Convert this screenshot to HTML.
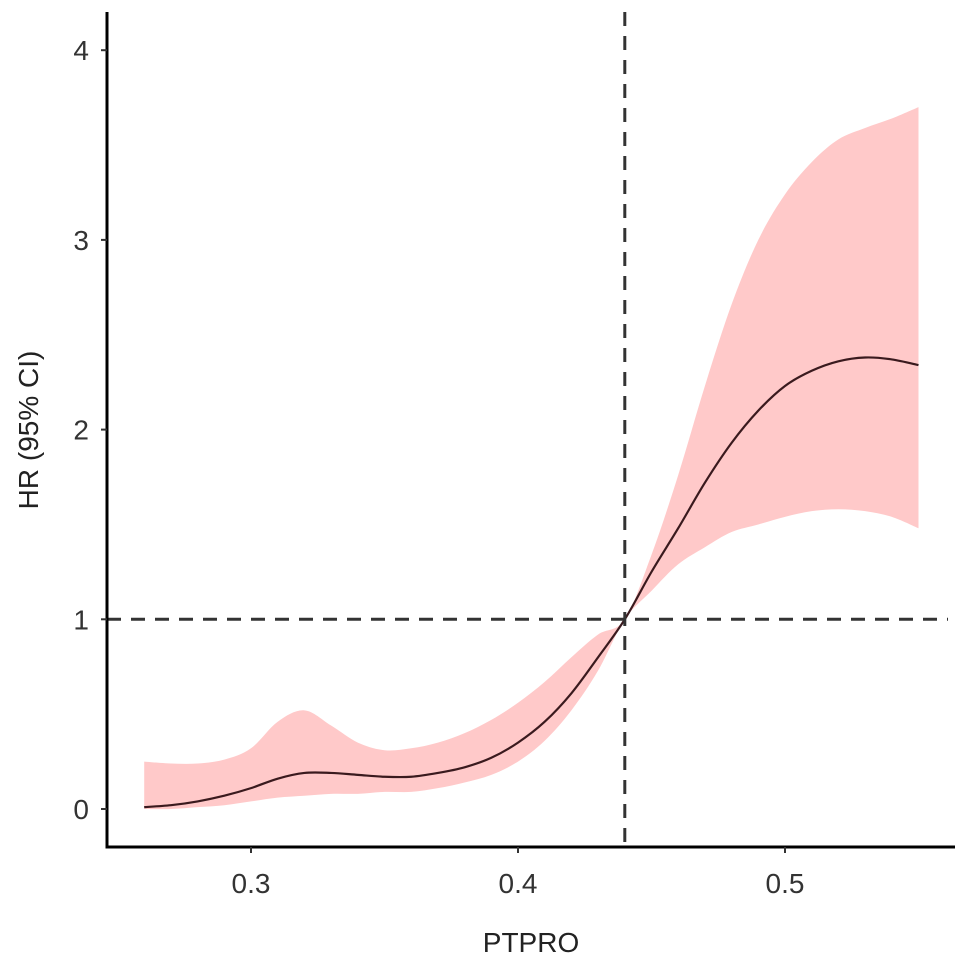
<!DOCTYPE html>
<html><head><meta charset="utf-8">
<style>
html,body{margin:0;padding:0;background:#fff;}
svg{display:block;font-family:"Liberation Sans",sans-serif;}
</style></head>
<body>
<svg id="chart" width="969" height="966" viewBox="0 0 969 966" xmlns="http://www.w3.org/2000/svg">
<g id="plot"></g>
</svg>
<script>
const xVals = [0.26,0.27,0.28,0.29,0.30,0.31,0.32,0.33,0.34,0.35,0.36,0.37,0.38,0.39,0.40,0.41,0.42,0.43,0.44,0.45,0.46,0.47,0.48,0.49,0.50,0.51,0.52,0.53,0.54,0.55];
const hr    = [0.01,0.02,0.04,0.07,0.11,0.16,0.19,0.19,0.18,0.17,0.17,0.19,0.22,0.27,0.35,0.46,0.61,0.80,1.00,1.25,1.48,1.72,1.93,2.10,2.23,2.31,2.36,2.38,2.37,2.34];
const upper = [0.25,0.24,0.24,0.26,0.32,0.46,0.52,0.44,0.35,0.31,0.32,0.35,0.40,0.47,0.56,0.67,0.80,0.92,1.00,1.34,1.76,2.23,2.66,3.00,3.24,3.41,3.53,3.59,3.64,3.70];
const lower = [0.00,0.00,0.01,0.02,0.04,0.06,0.07,0.08,0.08,0.09,0.09,0.11,0.14,0.18,0.25,0.36,0.52,0.73,1.00,1.15,1.29,1.38,1.46,1.50,1.54,1.57,1.58,1.57,1.54,1.48];
const xTicks = [0.3,0.4,0.5];
const xTickLabels = ["0.3","0.4","0.5"];
const yTicks = [0,1,2,3,4];
const yTickLabels = ["0","1","2","3","4"];
const refX = 0.44, refY = 1;

const NS="http://www.w3.org/2000/svg";
const g=document.getElementById('plot');
const X0=107, XR=955, YT=12, YB=847;
const xs = v => 251 + (v-0.3)*2670;
const ys = v => 809 - v*189.7;
function mk(tag, attrs){const e=document.createElementNS(NS,tag);for(const k in attrs)e.setAttribute(k,attrs[k]);g.appendChild(e);return e;}
function smooth(pts){
  let d="M"+pts[0][0]+","+pts[0][1];
  for(let i=0;i<pts.length-1;i++){
    const p0=pts[Math.max(0,i-1)],p1=pts[i],p2=pts[i+1],p3=pts[Math.min(pts.length-1,i+2)];
    const c1=[p1[0]+(p2[0]-p0[0])/6,p1[1]+(p2[1]-p0[1])/6];
    const c2=[p2[0]-(p3[0]-p1[0])/6,p2[1]-(p3[1]-p1[1])/6];
    d+=" C"+c1[0]+","+c1[1]+" "+c2[0]+","+c2[1]+" "+p2[0]+","+p2[1];
  }
  return d;
}
const up=xVals.map((x,i)=>[xs(x),ys(upper[i])]);
const lo=xVals.map((x,i)=>[xs(x),ys(lower[i])]).reverse();
let rd=smooth(up)+" L"+lo[0][0]+","+lo[0][1]+smooth(lo).replace(/^M[^C]*/," ")+" Z";
const rib=mk('path',{d:rd,fill:'#ffc9c9',stroke:'none'});


const ln=mk('path',{d:smooth(xVals.map((x,i)=>[xs(x),ys(hr[i])])),fill:'none',stroke:'#3a1a1e','stroke-width':2.2});


const hl=mk('line',{x1:X0,x2:948,y1:ys(refY),y2:ys(refY),stroke:'#333','stroke-width':3,'stroke-dasharray':'14 10'});


const vl=mk('line',{x1:xs(refX),x2:xs(refX),y1:YT,y2:YB,stroke:'#333','stroke-width':3,'stroke-dasharray':'14 10'});


const ya=mk('line',{x1:X0,x2:X0,y1:YT,y2:YB+1.5,stroke:'#000','stroke-width':3});


const xa=mk('line',{x1:X0-1.5,x2:XR,y1:YB,y2:YB,stroke:'#000','stroke-width':3});


yTicks.forEach((v,i)=>{
  const t=mk('line',{x1:X0-6,x2:X0,y1:ys(v),y2:ys(v),stroke:'#333','stroke-width':2});
  
  
  const l=mk('text',{x:X0-18,y:ys(v)+10,'text-anchor':'end','font-size':28,fill:'#333'});
  l.textContent=yTickLabels[i];
  
  
});
xTicks.forEach((v,i)=>{
  const t=mk('line',{x1:xs(v),x2:xs(v),y1:YB,y2:YB+6,stroke:'#333','stroke-width':2});
  
  
  const l=mk('text',{x:xs(v),y:893,'text-anchor':'middle','font-size':28,fill:'#333'});
  l.textContent=xTickLabels[i];
  
  
});
const xt=mk('text',{x:531,y:952,'text-anchor':'middle','font-size':28,fill:'#222'});
xt.textContent='PTPRO';


const yt=mk('text',{x:0,y:0,'text-anchor':'middle','font-size':28,fill:'#222',transform:'translate(38,430) rotate(-90)'});
yt.textContent='HR (95% CI)';


</script>
</body></html>
